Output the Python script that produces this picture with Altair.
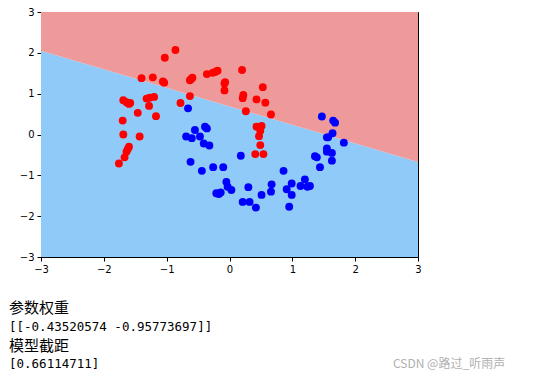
import altair as alt
import pandas as pd

# model coefficients (shown under the chart)
coef = [-0.43520574, -0.95773697]
intercept = 0.66114711

red_x = [-0.86, -1.03, -1.40, -1.22, -1.06, -1.04, -0.63, -0.59, -0.61, -0.36, -0.27, -0.19, -0.23,
         -0.07, -0.08, -0.63, -0.78, -1.69, -1.64, -1.58, -1.60, -1.32, -1.27, -1.20, -1.28, -1.46,
         -1.17, -1.70, -1.69, -1.43, -1.60, -1.62, -1.64, -1.67, -1.76, 0.20, -0.08, 0.53, 0.22, 0.21,
         0.43, 0.57, 0.26, 0.66, 0.43, 0.51, 0.49, 0.47, 0.49, 0.41, 0.54]
red_y = [2.07, 1.88, 1.38, 1.40, 1.30, 1.27, 1.33, 1.39, 1.36, 1.48, 1.51, 1.56, 1.53,
         1.28, 1.08, 0.94, 0.77, 0.84, 0.79, 0.77, 0.75, 0.88, 0.90, 0.92, 0.70, 0.53,
         0.45, 0.34, 0.00, -0.05, -0.30, -0.36, -0.42, -0.56, -0.71, 1.58, 1.25, 1.16, 0.97, 0.89,
         0.86, 0.78, 0.57, 0.49, 0.19, 0.21, 0.09, -0.04, -0.26, -0.48, -0.48]

blue_x = [-0.66, -0.55, -0.39, -0.36, -0.69, -0.60, -0.47, -0.41, -0.32, -0.62, -0.44, -0.26, -0.10,
          -0.05, -0.03, 0.03, -0.14, -0.21, -0.17, 0.18, 0.30, 0.21, 0.32, 0.42, 0.51, 0.66, 0.67,
          0.86, 0.91, 0.99, 0.99, 0.95, 1.13, 1.20, 1.24, 1.28, 1.36, 1.39, 1.44, 1.55, 1.55, 1.63,
          1.63, 1.55, 1.64, 1.82, 1.47, 1.65, 1.68, 1.57]
blue_y = [0.64, 0.11, 0.19, 0.15, -0.05, -0.09, -0.05, -0.22, -0.27, -0.67, -0.89, -0.80, -0.80,
          -1.16, -1.28, -1.36, -1.42, -1.44, -1.46, -0.52, -1.29, -1.65, -1.65, -1.79, -1.48, -1.40, -1.22,
          -0.89, -1.34, -1.20, -1.48, -1.77, -1.26, -1.10, -1.28, -1.26, -0.53, -0.56, -0.80, -0.34, -0.42, -0.45,
          -0.64, -0.07, 0.03, -0.20, 0.44, 0.34, 0.29, -0.07]

ticks = [-3, -2, -1, 0, 1, 2, 3]
text_lines = ["参数权重", "[[-0.43520574 -0.95773697]]", "模型截距", "[0.66114711]"]
watermark = "CSDN @路过_听雨声"

W, H = 377, 245
xs = [-3, 3]
yb = [(intercept + coef[0] * x) / -coef[1] for x in xs]
region = pd.DataFrame({"x": xs, "yb": yb, "lo": [-3, -3], "hi": [3, 3]})

xsc = alt.Scale(domain=[-3, 3], nice=False, zero=False)
ysc = alt.Scale(domain=[-3, 3], nice=False, zero=False)
axis_kw = dict(values=ticks, format="d", title=None, grid=False, labelFontSize=10, labelColor="black",
               domainColor="black", tickColor="black", tickSize=4, labelPadding=3,
               labelFont="DejaVu Sans", labelFlush=False)
xax = alt.Axis(**axis_kw)
yax = alt.Axis(**axis_kw)

base = alt.Chart(region)
blue_area = base.mark_area(color="#90CAF9", opacity=1).encode(
    x=alt.X("x:Q", scale=xsc, axis=xax), y=alt.Y("lo:Q", scale=ysc, axis=yax), y2="yb:Q")
red_area = base.mark_area(color="#EF9A9A", opacity=1).encode(
    x=alt.X("x:Q", scale=xsc), y=alt.Y("yb:Q", scale=ysc), y2="hi:Q")

pts = pd.concat([
    pd.DataFrame({"x": red_x, "y": red_y, "c": "red"}),
    pd.DataFrame({"x": blue_x, "y": blue_y, "c": "blue"}),
])
points = alt.Chart(pts).mark_circle(size=62, opacity=1).encode(
    x=alt.X("x:Q", scale=xsc), y=alt.Y("y:Q", scale=ysc),
    color=alt.Color("c:N", scale=None))

ypos = [296, 315, 334, 352]
texts = []
for i, line in enumerate(text_lines):
    cjk = i % 2 == 0
    texts.append(alt.Chart(pd.DataFrame({"t": [line]})).mark_text(
        align="left", baseline="middle", fontSize=15 if cjk else 12.5,
        font="Noto Sans CJK SC" if cjk else "DejaVu Sans Mono", color="black").encode(
        x=alt.value(-32), y=alt.value(ypos[i]), text="t:N"))
wm = alt.Chart(pd.DataFrame({"t": [watermark]})).mark_text(
    align="left", baseline="middle", fontSize=12, font="Noto Sans CJK SC", color="#b0b0b0").encode(
    x=alt.value(352), y=alt.value(352), text="t:N")

chart = alt.layer(blue_area, red_area, points, *texts, wm).properties(
    width=W, height=H,
    autosize=alt.AutoSizeParams(type="none"),
    padding={"left": 33, "top": 4, "right": 122, "bottom": 120},
    background="white",
).configure_view(stroke="black", strokeWidth=1)

chart.save("out.html", embed_options={"renderer": "svg", "actions": False})
